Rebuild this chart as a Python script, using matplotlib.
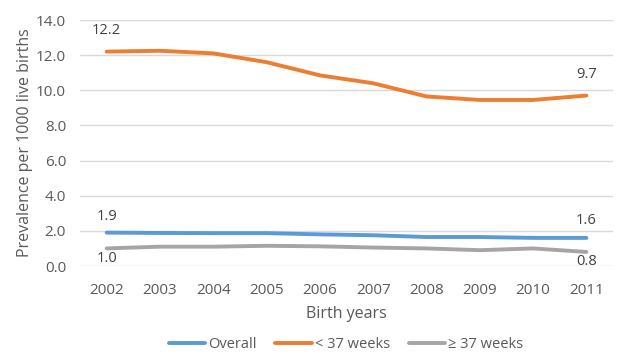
import numpy as np
import matplotlib
matplotlib.use("Agg")
import matplotlib.pyplot as plt

years = [2002, 2003, 2004, 2005, 2006, 2007, 2008, 2009, 2010, 2011]
overall = [1.9, 1.88, 1.87, 1.87, 1.8, 1.75, 1.65, 1.65, 1.6, 1.6]
preterm = [12.2, 12.25, 12.1, 11.6, 10.85, 10.4, 9.65, 9.45, 9.45, 9.7]
term = [1.0, 1.1, 1.1, 1.15, 1.12, 1.05, 1.0, 0.9, 1.0, 0.8]
series_names = ["Overall", "< 37 weeks", "\u2265 37 weeks"]
yticks = [0, 2, 4, 6, 8, 10, 12, 14]

plt.rcParams['font.family'] = ['Open Sans', 'DejaVu Sans']
txt = "#595959"

fig = plt.figure(figsize=(6.26, 3.63), dpi=100)
ax = fig.add_axes([80/626, 1-266/363, 533/626, 246/363])

x = np.arange(len(years))
colors = ["#5B9BD5", "#ED7D31", "#A5A5A5"]
for vals, name, c in zip([overall, preterm, term], series_names, colors):
    ax.plot(x, vals, color=c, lw=2.8, label=name, solid_capstyle='round')

# end-point data labels, offsets in pixels (dpi 100)
def lab(i, v, off_px):
    ax.annotate("%.1f" % v, (x[i], v), xytext=(0, off_px * 0.72), textcoords="offset points",
                ha="center", va="center", fontsize=10.5, color="#404040")

lab(0, preterm[0], 21)
lab(-1, preterm[-1], 21)
lab(0, overall[0], 16)
lab(-1, overall[-1], 17)
lab(0, term[0], -10)
lab(-1, term[-1], -10)

ax.set_xlim(-0.5, len(years) - 0.5)
ax.set_ylim(0, 14)
ax.set_yticks(yticks)
ax.set_yticklabels(["%.1f" % v for v in yticks])
ax.set_xticks(x)
ax.set_xticklabels([str(y) for y in years])
ax.grid(axis='y', color="#D9D9D9", lw=1)
ax.set_axisbelow(True)
for s in ax.spines.values():
    s.set_visible(False)
ax.tick_params(length=0, colors=txt, labelsize=11)
ax.tick_params(axis='x', pad=12)
ax.tick_params(axis='y', pad=10)
ax.set_xlabel("Birth years", color=txt, fontsize=11.5, labelpad=6)
ax.set_ylabel("Prevalence per 1000 live births", color=txt, fontsize=11.5, labelpad=2)

leg = fig.legend(loc="center", bbox_to_anchor=(346/626, 1-345/363), ncol=3, frameon=False,
                 fontsize=10.5, handlelength=2.5, columnspacing=1.3, handletextpad=0.2)
for t in leg.get_texts():
    t.set_color(txt)

fig.savefig("out.png", dpi=100)
